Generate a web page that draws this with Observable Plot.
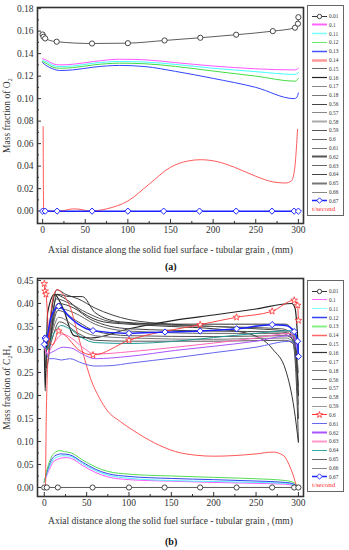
<!DOCTYPE html>
<html><head><meta charset="utf-8">
<script src="https://cdn.jsdelivr.net/npm/d3@7"></script>
<script src="https://cdn.jsdelivr.net/npm/@observablehq/plot@0.6"></script>
<style>
body{margin:0;background:#fff;}
#wrap{position:relative;width:349px;height:550px;font-family:"Liberation Serif","DejaVu Serif",serif;overflow:hidden;}
#wrap > svg{position:absolute;left:0;display:block;font-family:"Liberation Serif","DejaVu Serif",serif !important;}
#wrap > svg text{font-family:"Liberation Serif","DejaVu Serif",serif;}
.legend{position:absolute;border:1px solid #666;background:#fff;box-sizing:border-box;}
.row{position:absolute;left:0;height:9px;display:flex;align-items:center;font-size:5.4px;color:#333;white-space:nowrap;}
.row svg{display:block;margin-right:1px;}
.tsec{position:absolute;left:4px;font-size:7px;color:#ff3030;line-height:9px;}
.tag{position:absolute;font-weight:bold;font-size:10px;color:#111;}
</style></head><body><div id="wrap"></div>
<script>
// ---------- ticks ----------
const xTicks = [0, 50, 100, 150, 200, 250, 300];
const xMinorTicks = [25, 75, 125, 175, 225, 275];
const o2Ticks = [0, 0.02, 0.04, 0.06, 0.08, 0.10, 0.12, 0.14, 0.16, 0.18];
const o2MinorTicks = [0.01, 0.03, 0.05, 0.07, 0.09, 0.11, 0.13, 0.15, 0.17];
const c2h4Ticks = [0, 0.05, 0.10, 0.15, 0.20, 0.25, 0.30, 0.35, 0.40, 0.45];
const c2h4MinorTicks = [0.025, 0.075, 0.125, 0.175, 0.225, 0.275, 0.325, 0.375, 0.425];
const timeLabels = ["0.01","0.1","0.11","0.12","0.13","0.14","0.15","0.16","0.17","0.18","0.56","0.57","0.58","0.59","0.6","0.61","0.62","0.63","0.64","0.65","0.66","0.67"];
const xTitle = "Axial distance along the solid fuel surface - tubular grain , (mm)";
const yTitleA = "Mass fraction of O\u2082";
const yTitleB = "Mass fraction of C\u2082H\u2084";

// ---------- panel (a): O2 ----------
const o2_t001 = [[0,0.157],[1,0.155],[3,0.1535],[16.5,0.1506],[58,0.149],[100,0.1493],[143,0.1517],[185,0.1541],[227,0.1568],[270,0.160],[296,0.163],[299.5,0.1666],[300,0.1724]];
const o2_t010 = [[0,0.1355],[5,0.134],[12,0.131],[20,0.130],[35,0.1305],[60,0.133],[90,0.135],[120,0.1345],[156,0.132],[200,0.129],[250,0.1265],[296,0.1255],[300,0.127]];
const o2_t011 = [[0,0.134],[5,0.1325],[12,0.1295],[20,0.1285],[35,0.129],[60,0.1315],[90,0.133],[120,0.1325],[156,0.1304],[200,0.127],[250,0.124],[296,0.1215],[300,0.123]];
const o2_t012 = [[0,0.133],[5,0.131],[12,0.128],[20,0.127],[35,0.1275],[60,0.130],[90,0.1315],[120,0.131],[156,0.1286],[200,0.1245],[250,0.120],[296,0.1155],[300,0.118]];
const o2_t013 = [[0,0.132],[5,0.129],[12,0.1265],[20,0.125],[35,0.1255],[60,0.128],[90,0.1295],[120,0.1285],[156,0.1242],[200,0.118],[250,0.110],[295,0.100],[298,0.101],[300,0.105]];
const o2_t014 = [[0.6,0.075],[1.2,0.0],[20,0.0],[28,0.001],[35,0.002],[45,0.0015],[55,0.0],[75,0.002],[100,0.009],[125,0.024],[150,0.039],[170,0.0445],[185,0.0457],[205,0.044],[225,0.039],[250,0.031],[270,0.026],[285,0.025],[292,0.027],[296,0.040],[298,0.060],[299,0.0726]];
const o2_t067 = [[0,0],[3,0],[17,0],[58,0],[100,0],[142,0],[184,0],[227,0],[269,0],[295,0],[300,0]];

// ---------- panel (b): C2H4 ----------
const c_t001 = [[0,0],[3,0],[16,0],[57,0],[100,0],[142,0],[184,0],[227,0],[269,0],[295,0],[300,0]];
const c_t010 = [[0,0.012],[5,0.035],[12,0.058],[25,0.065],[32,0.063],[45,0.048],[60,0.033],[75,0.023],[100,0.017],[150,0.0137],[200,0.011],[250,0.009],[285,0.007],[295,0.004],[300,0.001]];
const c_t011 = [[0,0.012],[5,0.040],[12,0.063],[22,0.069],[30,0.068],[45,0.052],[60,0.037],[75,0.027],[100,0.020],[150,0.015],[200,0.013],[250,0.011],[285,0.009],[295,0.006],[300,0.002]];
const c_t012 = [[0,0.012],[5,0.045],[12,0.068],[20,0.073],[30,0.071],[45,0.055],[60,0.040],[75,0.030],[100,0.024],[150,0.0196],[200,0.017],[250,0.014],[285,0.011],[295,0.007],[300,0.002]];
const c_t013 = [[0,0.012],[5,0.050],[12,0.075],[18,0.080],[24,0.078],[32,0.075],[45,0.060],[60,0.045],[75,0.035],[100,0.029],[150,0.025],[200,0.022],[250,0.019],[285,0.015],[295,0.010],[300,0.002]];
const c_t014 = [[1.5,0.0],[2.5,0.17],[6,0.33],[10,0.41],[15,0.43],[22,0.42],[31,0.39],[40,0.33],[46,0.29],[55,0.235],[65,0.195],[74,0.168],[90,0.143],[105,0.124],[130,0.097],[155,0.078],[180,0.070],[200,0.068],[250,0.073],[270,0.077],[282,0.070],[290,0.045],[295,0.020],[298,0.0]];
const c_t015 = [[0,0.33],[2,0.30],[8,0.38],[15,0.43],[25,0.42],[40,0.41],[60,0.39],[100,0.365],[150,0.355],[200,0.35],[250,0.345],[285,0.34],[293,0.32],[297,0.25],[300,0.10]];
const c_t016 = [[0,0.32],[1,0.21],[4,0.38],[12,0.42],[22,0.39],[35,0.33],[55,0.325],[100,0.345],[155,0.364],[200,0.375],[250,0.388],[292,0.40],[296,0.39],[300,0.30]];
const c_t017 = [[0,0.32],[3,0.30],[12,0.42],[25,0.41],[45,0.38],[70,0.36],[100,0.355],[150,0.35],[200,0.345],[240,0.335],[270,0.30],[285,0.255],[295,0.17],[300,0.098]];
const c_t018 = [[0,0.33],[3,0.31],[14,0.41],[30,0.40],[50,0.38],[80,0.36],[120,0.355],[200,0.35],[280,0.345],[292,0.335],[298,0.28],[300,0.22]];
const c_t056 = [[0,0.32],[3,0.30],[16,0.40],[35,0.39],[55,0.365],[100,0.345],[200,0.34],[280,0.338],[293,0.33],[298,0.25],[300,0.15]];
const c_t057 = [[0,0.32],[3,0.31],[15,0.39],[35,0.38],[60,0.355],[100,0.34],[200,0.335],[280,0.335],[292,0.325],[297,0.27],[300,0.18]];
const c_t058 = [[0,0.32],[3,0.30],[16,0.385],[40,0.36],[60,0.34],[100,0.33],[200,0.328],[285,0.33],[294,0.32],[298,0.26],[300,0.20]];
const c_t059 = [[0,0.32],[3,0.31],[17,0.37],[40,0.345],[60,0.33],[100,0.325],[200,0.322],[285,0.325],[294,0.315],[299,0.27],[300,0.25]];
const c_t060 = [[0,0.443],[1,0.427],[2,0.42],[6,0.32],[10,0.31],[17,0.34],[25,0.33],[40,0.30],[57.5,0.288],[100,0.32],[184,0.354],[227,0.37],[269,0.383],[295,0.407],[299,0.396],[300,0.363]];
const c_t060_marks = [[0,0.443],[1,0.427],[2,0.42],[17,0.34],[57.5,0.288],[100,0.32],[184,0.354],[227,0.37],[269,0.383],[295,0.407],[299,0.396],[300,0.363]];
const c_t061 = [[0,0.32],[3,0.29],[6,0.28],[12,0.28],[20,0.277],[30,0.28],[45,0.27],[60,0.264],[80,0.265],[100,0.27],[155,0.282],[200,0.293],[250,0.305],[290,0.318],[296,0.31],[300,0.29]];
const c_t062 = [[0,0.31],[3,0.29],[10,0.295],[22,0.305],[32,0.303],[45,0.29],[60,0.28],[100,0.285],[155,0.298],[200,0.307],[250,0.318],[290,0.33],[296,0.32],[300,0.29]];
const c_t063 = [[0,0.31],[3,0.29],[10,0.31],[22,0.333],[32,0.325],[45,0.305],[60,0.29],[100,0.295],[155,0.305],[200,0.314],[250,0.325],[290,0.335],[296,0.325],[300,0.30]];
const c_t064 = [[0,0.32],[3,0.30],[10,0.33],[20,0.352],[30,0.345],[45,0.325],[60,0.315],[100,0.313],[155,0.318],[200,0.326],[250,0.335],[290,0.341],[296,0.33],[300,0.30]];
const c_t065 = [[0,0.32],[3,0.30],[18,0.36],[40,0.335],[60,0.32],[100,0.318],[200,0.318],[285,0.32],[295,0.31],[300,0.28]];
const c_t066 = [[0,0.32],[2,0.26],[15,0.42],[30,0.415],[45,0.415],[60,0.38],[90,0.36],[150,0.355],[220,0.355],[285,0.355],[293,0.34],[297,0.30],[300,0.20]];
const c_t067 = [[0,0.311],[1,0.325],[2,0.322],[8,0.37],[17,0.394],[30,0.37],[40,0.355],[57.5,0.341],[100,0.335],[142.5,0.338],[184,0.34],[227,0.345],[269,0.354],[285,0.352],[295,0.339],[299,0.318],[300,0.285]];
const c_t067_marks = [[0,0.311],[1,0.325],[2,0.322],[17,0.394],[57.5,0.341],[100,0.335],[142.5,0.338],[184,0.34],[227,0.345],[269,0.354],[295,0.339],[299,0.318],[300,0.285]];

// ---------- styles ----------
const legendColorsA = ["#333","#ff66ff","#77ffff","#66ee66","#4455ff","#ff9999","#666","#222","#888","#777","#444","#888","#aaa","#555","#666","#777","#555","#666","#444","#777","#888","#1a22ff"];
const legendWidthsA = [1,2,1.5,1,1.5,2.5,1,1.2,1,1,1,1,2,1,1,1,2,1,1,2,1,1.5];
const legendColorsB = ["#333","#ff66ff","#88ffff","#3344ee","#88ee88","#ff6666","#555","#333","#888","#777","#666","#777","#777","#999","#ff3333","#6666ee","#aa55ff","#ff99cc","#33aaaa","#666","#888","#1a22ff"];
const legendWidthsB = [1,1,1,1.5,2,1.5,1,1.2,1,1,1,1,1,1,1,1,2,2,1,1,1,1.5];

const lineOpts = (stroke, w) => ({x: d => d[0], y: d => d[1], stroke, strokeWidth: w, curve: "monotone-x"});
const font = "\"Liberation Serif\", \"DejaVu Serif\", serif";

function axes(yTicks, yMinor, yTitle, xOffset, yOffset) {
  return [
    Plot.axisX({ticks: xTicks, tickSize: -4, tickPadding: 7, tickFormat: d => String(d), label: xTitle, labelAnchor: "center", labelOffset: xOffset, labelArrow: "none", stroke: "#333", fill: "#333", fontFamily: font}),
    Plot.axisX({ticks: xMinorTicks, tickSize: -2, tickFormat: () => "", label: null, stroke: "#333"}),
    Plot.axisY({ticks: yTicks, tickSize: -4, tickPadding: 8, tickFormat: d3.format(".2f"), label: yTitle, labelAnchor: "center", labelOffset: yOffset, labelArrow: "none", stroke: "#333", fill: "#333", fontFamily: font}),
    Plot.axisY({ticks: yMinor, tickSize: -2, tickFormat: () => "", label: null, stroke: "#333"})
  ];
}

const wrap = document.getElementById("wrap");

// panel a
const chartA = Plot.plot({
  width: 349, height: 262,
  marginLeft: 37, marginRight: 46, marginTop: 7, marginBottom: 39,
  style: {fontFamily: font, fontSize: "9.5px", color: "#333", background: "transparent"},
  x: {domain: [-6, 306]},
  y: {domain: [-0.011, 0.181]},
  marks: [
    ...axes(o2Ticks, o2MinorTicks, yTitleA, 29, 34),
    Plot.line(o2_t014, lineOpts("#ff5a5a", 1)),
    Plot.line(o2_t010, lineOpts("#ff55ff", 1)),
    Plot.line(o2_t011, lineOpts("#44ffff", 1)),
    Plot.line(o2_t012, lineOpts("#44dd44", 1)),
    Plot.line(o2_t013, lineOpts("#3344ff", 1)),
    Plot.line(o2_t001, lineOpts("#333", 0.8)),
    Plot.dot(o2_t001, {x: d => d[0], y: d => d[1], r: 2.6, stroke: "#333", fill: "white", strokeWidth: 0.9}),
    Plot.line(o2_t067, lineOpts("#1a22ff", 1.5)),
    Plot.dot(o2_t067, {x: d => d[0], y: d => d[1], symbol: "diamond2", r: 2.8, stroke: "#1a22ff", fill: "white", strokeWidth: 1}),
    Plot.frame({stroke: "#333", strokeWidth: 1.6})
  ]
});
chartA.style.top = "0px";
wrap.appendChild(chartA);

// panel b
const grayB = [[c_t015,"#444",1],[c_t016,"#222",1.2],[c_t017,"#333",1],[c_t018,"#555",1],[c_t056,"#444",1],[c_t057,"#666",1],[c_t058,"#555",1],[c_t059,"#777",1],[c_t065,"#555",1],[c_t066,"#333",1]];
const chartB = Plot.plot({
  width: 349, height: 288,
  marginLeft: 37, marginRight: 46, marginTop: 16, marginBottom: 54,
  style: {fontFamily: font, fontSize: "9.5px", color: "#333", background: "transparent"},
  x: {domain: [-8, 306]},
  y: {domain: [-0.0196, 0.4543]},
  marks: [
    ...axes(c2h4Ticks, c2h4MinorTicks, yTitleB, 27, 34),
    ...grayB.map(([d, c, w]) => Plot.line(d, lineOpts(c, w))),
    Plot.line(c_t010, lineOpts("#ff55ff", 1)),
    Plot.line(c_t011, lineOpts("#55eeff", 1)),
    Plot.line(c_t012, lineOpts("#3344ee", 1)),
    Plot.line(c_t013, lineOpts("#55dd55", 1)),
    Plot.line(c_t014, lineOpts("#ff4444", 0.9)),
    Plot.line(c_t061, lineOpts("#6666ee", 1)),
    Plot.line(c_t062, lineOpts("#aa55ff", 1)),
    Plot.line(c_t063, lineOpts("#ff66bb", 1)),
    Plot.line(c_t064, lineOpts("#229999", 1)),
    Plot.line(c_t060, lineOpts("#ff3333", 0.9)),
    Plot.dot(c_t060_marks, {x: d => d[0], y: d => d[1], symbol: "star", r: 2.1, stroke: "#ff3333", fill: "white", strokeWidth: 0.8}),
    Plot.line(c_t067, lineOpts("#1a22ff", 1.5)),
    Plot.dot(c_t067_marks, {x: d => d[0], y: d => d[1], symbol: "diamond2", r: 2.8, stroke: "#1a22ff", fill: "white", strokeWidth: 1}),
    Plot.line(c_t001, lineOpts("#333", 0.8)),
    Plot.dot(c_t001, {x: d => d[0], y: d => d[1], r: 2.6, stroke: "#333", fill: "white", strokeWidth: 0.9}),
    Plot.frame({stroke: "#333", strokeWidth: 1.6})
  ]
});
chartB.style.top = "262px";
wrap.appendChild(chartB);

// tags
function tag(text, left, top) {
  const d = document.createElement("div");
  d.className = "tag"; d.textContent = text;
  d.style.left = left + "px"; d.style.top = top + "px";
  wrap.appendChild(d);
}
tag("(a)", 165, 261);
tag("(b)", 165, 536);

// legends
const markerOf = {"0.01": "circle", "0.67": "diamond"};
function legend(colors, widths, boxTop, boxHeight, firstCenter, step, starAt) {
  const box = document.createElement("div");
  box.className = "legend";
  box.style.left = "307px"; box.style.top = boxTop + "px";
  box.style.width = "37px"; box.style.height = boxHeight + "px";
  timeLabels.forEach((lab, i) => {
    const row = document.createElement("div");
    row.className = "row";
    row.style.top = (firstCenter + i * step - boxTop - 1 - 4.5) + "px";
    const ns = "http://www.w3.org/2000/svg";
    const s = document.createElementNS(ns, "svg");
    s.setAttribute("width", 20); s.setAttribute("height", 9);
    const ln = document.createElementNS(ns, "line");
    ln.setAttribute("x1", 4); ln.setAttribute("x2", 19); ln.setAttribute("y1", 4.5); ln.setAttribute("y2", 4.5);
    ln.setAttribute("stroke", colors[i]); ln.setAttribute("stroke-width", widths[i]);
    s.appendChild(ln);
    const m = lab === starAt ? "star" : markerOf[lab];
    if (m) {
      let el;
      if (m === "circle") {
        el = document.createElementNS(ns, "circle");
        el.setAttribute("cx", 11.5); el.setAttribute("cy", 4.5); el.setAttribute("r", 2.2);
      } else if (m === "diamond") {
        el = document.createElementNS(ns, "path");
        el.setAttribute("d", "M11.5,1.8L14.2,4.5L11.5,7.2L8.8,4.5Z");
      } else {
        el = document.createElementNS(ns, "path");
        el.setAttribute("d", d3.symbol(d3.symbolStar, 12)());
        el.setAttribute("transform", "translate(11.5,4.8)");
      }
      el.setAttribute("fill", "white"); el.setAttribute("stroke", colors[i]); el.setAttribute("stroke-width", 0.9);
      s.appendChild(el);
    }
    row.appendChild(s);
    const t = document.createElement("span");
    t.textContent = lab;
    row.appendChild(t);
    box.appendChild(row);
  });
  const ts = document.createElement("div");
  ts.className = "tsec"; ts.textContent = "t/second";
  ts.style.top = (firstCenter + timeLabels.length * step - boxTop - 1 - 4.5) + "px";
  box.appendChild(ts);
  wrap.appendChild(box);
}
legend(legendColorsA, legendWidthsA, 5, 211, 16, 8.8, null);
legend(legendColorsB, legendWidthsB, 280, 212, 291, 8.85, "0.6");
</script></body></html>
